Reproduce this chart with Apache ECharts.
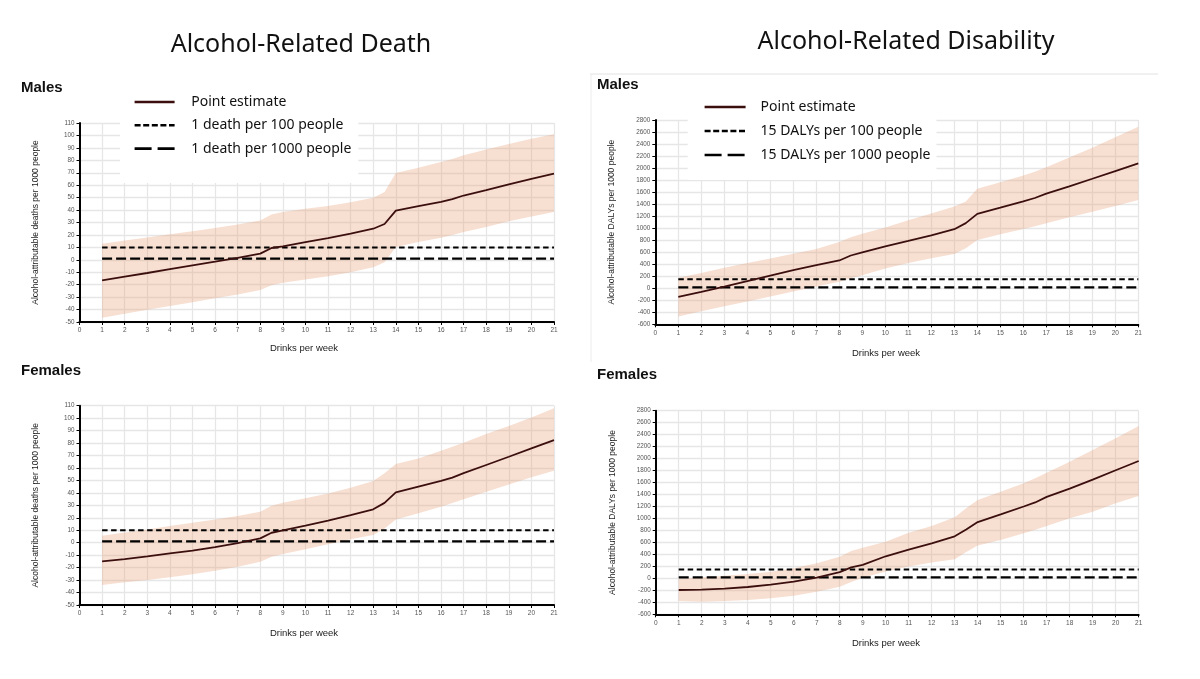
<!DOCTYPE html>
<html lang="en">
<head>
<meta charset="utf-8">
<title>Alcohol-related death and disability</title>
<script src="https://cdn.jsdelivr.net/npm/echarts@6/dist/echarts.min.js"></script>
<style>
  html, body { margin: 0; padding: 0; background: #fff; }
  #chart { width: 1200px; height: 679px; }
</style>
</head>
<body>
<div id="chart"></div>
<script>
// drinks per week where the estimates are given
var drinks = [1, 2, 3, 4, 5, 6, 7, 8, 8.5, 9, 10, 11, 12, 13, 13.5, 14, 15, 16, 16.5, 17, 18, 19, 20, 21];

// alcohol-attributable deaths per 1000 people
var maleDeathPoint = [-16.5, -13.5, -10.6, -7.5, -4.4, -1.5, 1.5, 5, 9.5, 10.8, 14.3, 17.5, 21, 25, 28.8, 39.6, 43.2, 46.6, 48.8, 51.7, 56.1, 60.7, 65, 69.2];
var maleDeathHigh  = [13, 15.5, 18, 20.5, 23, 25.6, 28.3, 31.7, 36.5, 38.4, 41, 43.2, 46.3, 50, 54.5, 69.8, 74, 78.6, 81, 84, 88.6, 93.2, 97.3, 101];
var maleDeathLow   = [-46.5, -43.3, -40.2, -37.2, -34.2, -31, -27.8, -24.2, -20.5, -18.5, -15.8, -13.2, -10, -6, -2, 10.3, 14.3, 17.8, 20, 22.4, 26.4, 31, 34.8, 38.4];

var femaleDeathPoint = [-15, -13.1, -11, -8.6, -6.3, -3.5, -0.3, 3.5, 8, 10, 13.7, 17.7, 22.2, 26.8, 32, 40.4, 45, 49.6, 52.3, 55.8, 62.4, 69, 75.7, 82.4];
var femaleDeathHigh  = [5.6, 8.3, 10.7, 13.4, 16, 18.7, 21.4, 24.9, 29.7, 32, 35.6, 39.6, 44.2, 49.5, 55.7, 63.2, 67.7, 73.9, 77, 80.3, 87.3, 93.7, 100.6, 107.9];
var femaleDeathLow   = [-34, -31.8, -30, -27.8, -25.4, -22.5, -19.3, -15.2, -11.2, -9.1, -5.3, -1.3, 2.7, 6.2, 11.5, 18.7, 23.6, 28.9, 31.8, 34.8, 41, 46.8, 52.5, 57.8];

// alcohol-attributable DALYs per 1000 people
var maleDalyPoint = [-142, -62, 25, 118, 210, 300, 385, 462, 545, 595, 695, 787, 881, 983, 1083, 1238, 1341, 1447, 1502, 1574, 1696, 1822, 1950, 2077];
var maleDalyHigh  = [175, 255, 340, 420, 495, 575, 655, 770, 850, 905, 1010, 1130, 1245, 1360, 1442, 1655, 1765, 1875, 1940, 2015, 2175, 2340, 2512, 2689];
var maleDalyLow   = [-472, -383, -300, -220, -139, -56, 27, 110, 168, 215, 330, 420, 498, 570, 665, 803, 898, 986, 1033, 1081, 1181, 1275, 1369, 1469];

var femaleDalyPoint = [-194, -188, -172, -144, -105, -55, 12, 105, 184, 225, 369, 480, 585, 702, 815, 940, 1068, 1200, 1268, 1360, 1500, 1650, 1805, 1960];
var femaleDalyHigh  = [-10, 17, 45, 73, 112, 168, 251, 362, 457, 513, 613, 763, 874, 1019, 1169, 1309, 1448, 1587, 1670, 1765, 1949, 2143, 2338, 2544];
var femaleDalyLow   = [-378, -389, -378, -361, -333, -289, -222, -138, -60, 10, 115, 200, 265, 320, 440, 550, 641, 752, 812, 874, 1002, 1114, 1253, 1375];

// reference lines
var deathLines = [10, 1];
var dalyLines = [150, 15];
var deathLineNames = ['1 death per 100 people', '1 death per 1000 people'];
var dalyLineNames = ['15 DALYs per 100 people', '15 DALYs per 1000 people'];

// axis ranges: min, max, step
var drinksRange = [0, 21, 1];
var deathRange = [-50, 110, 10];
var dalyRange = [-600, 2800, 200];

var pointColor = '#3c0f0f';
var bandColor = 'rgba(232,158,118,0.33)';
var gridColor = '#e6e6e6';
var shortDash = [5.5, 3.5];
var longDash = [10, 4];

var panels = [
  { rect: {left: 79.5, top: 123, width: 474.5, height: 199}, range: deathRange, title: 'Alcohol-attributable deaths per 1000 people',
    point: maleDeathPoint, low: maleDeathLow, high: maleDeathHigh, lines: deathLines, lineNames: deathLineNames },
  { rect: {left: 655.3, top: 120, width: 483, height: 204.3}, range: dalyRange, title: 'Alcohol-attributable DALYs per 1000 people',
    point: maleDalyPoint, low: maleDalyLow, high: maleDalyHigh, lines: dalyLines, lineNames: dalyLineNames },
  { rect: {left: 79.5, top: 405.7, width: 474.5, height: 199.3}, range: deathRange, title: 'Alcohol-attributable deaths per 1000 people',
    point: femaleDeathPoint, low: femaleDeathLow, high: femaleDeathHigh, lines: deathLines, lineNames: deathLineNames },
  { rect: {left: 655.7, top: 410.7, width: 483, height: 203.6}, range: dalyRange, title: 'Alcohol-attributable DALYs per 1000 people',
    point: femaleDalyPoint, low: femaleDalyLow, high: femaleDalyHigh, lines: dalyLines, lineNames: dalyLineNames }
];

var axisFont = 'Liberation Sans, Arial, sans-serif';
var grids = [], xAxes = [], yAxes = [], series = [];

panels.forEach(function (p, i) {
  grids.push({left: p.rect.left, top: p.rect.top, width: p.rect.width, height: p.rect.height, containLabel: false});

  xAxes.push({
    type: 'value', gridIndex: i,
    min: drinksRange[0], max: drinksRange[1], interval: drinksRange[2],
    axisLine: {onZero: false, lineStyle: {color: '#000', width: 2}},
    axisTick: {length: 3, lineStyle: {color: '#000', width: 1}},
    axisLabel: {fontSize: 6.5, color: '#555', margin: 5, fontFamily: axisFont},
    splitLine: {show: true, lineStyle: {color: gridColor, width: 1.3}}
  });

  yAxes.push({
    type: 'value', gridIndex: i,
    min: p.range[0], max: p.range[1], interval: p.range[2],
    name: p.title, nameLocation: 'middle', nameGap: 39,
    nameTextStyle: {fontSize: 8.5, color: '#222', fontFamily: axisFont},
    axisLine: {show: true, onZero: false, lineStyle: {color: '#000', width: 2}},
    axisTick: {show: true, length: 3, lineStyle: {color: '#000', width: 1}},
    axisLabel: {fontSize: 6.3, color: '#555', margin: 5, fontFamily: axisFont,
      formatter: function (v) { return String(v); }},
    splitLine: {show: true, lineStyle: {color: gridColor, width: 1.3}}
  });

  // uncertainty band as one polygon through the axis scales
  series.push({
    type: 'custom', xAxisIndex: i, yAxisIndex: i, silent: true, z: 1,
    data: drinks.map(function (d, k) { return [d, p.low[k], p.high[k]]; }),
    encode: {x: 0, y: [1, 2]},
    renderItem: function (params, api) {
      if (params.dataIndex !== 0) return null;
      var pts = [];
      for (var k = 0; k < drinks.length; k++) pts.push(api.coord([drinks[k], p.low[k]]));
      for (var k2 = drinks.length - 1; k2 >= 0; k2--) pts.push(api.coord([drinks[k2], p.high[k2]]));
      return {type: 'polygon', shape: {points: pts}, style: {fill: bandColor}};
    }
  });

  var first = drinks[0], last = drinks[drinks.length - 1];
  series.push({
    type: 'line', name: p.lineNames[0], xAxisIndex: i, yAxisIndex: i, symbol: 'none', silent: true, z: 3,
    data: [[first, p.lines[0]], [last, p.lines[0]]],
    lineStyle: {color: '#000', width: 2, type: shortDash}
  });
  series.push({
    type: 'line', name: p.lineNames[1], xAxisIndex: i, yAxisIndex: i, symbol: 'none', silent: true, z: 3,
    data: [[first, p.lines[1]], [last, p.lines[1]]],
    lineStyle: {color: '#000', width: 2.2, type: longDash}
  });
  series.push({
    type: 'line', name: 'Point estimate', xAxisIndex: i, yAxisIndex: i, symbol: 'none', silent: true, z: 4,
    data: drinks.map(function (d, k) { return [d, p.point[k]]; }),
    lineStyle: {color: pointColor, width: 1.8}
  });
});

function legendItems(names) {
  return [
    {name: 'Point estimate', lineStyle: {color: pointColor, width: 2.4, type: 'solid'}},
    {name: names[0], lineStyle: {color: '#000', width: 2.4, type: [6, 2.6]}},
    {name: names[1], lineStyle: {color: '#000', width: 2.6, type: [17, 6]}}
  ];
}

var legendText = {fontSize: 14, color: '#111', fontFamily: 'Noto Sans, sans-serif'};
var titleFont = 'Noto Sans, sans-serif';
var panelFont = 'Liberation Sans Narrow, Liberation Sans, sans-serif';

var option = {
  animation: false,
  backgroundColor: '#fff',
  grid: grids,
  xAxis: xAxes,
  yAxis: yAxes,
  legend: [
    {
      orient: 'vertical', left: 120, top: 89, selectedMode: false,
      itemWidth: 40, itemHeight: 14, itemGap: 9.3,
      padding: [6, 7, 27.5, 13.3], backgroundColor: '#fff',
      itemStyle: {opacity: 0},
      textStyle: Object.assign({padding: [0, 0, 0, 11.7]}, legendText),
      data: legendItems(deathLineNames)
    },
    {
      orient: 'vertical', left: 687.7, top: 94, selectedMode: false,
      itemWidth: 41, itemHeight: 14, itemGap: 10,
      padding: [6, 6, 18, 15.6], backgroundColor: '#fff',
      itemStyle: {opacity: 0},
      textStyle: Object.assign({padding: [0, 0, 0, 10]}, legendText),
      data: legendItems(dalyLineNames)
    }
  ],
  graphic: [
    {type: 'line', shape: {x1: 590, y1: 74, x2: 1158, y2: 74}, style: {stroke: '#e2e2e2', lineWidth: 1}, silent: true},
    {type: 'line', shape: {x1: 591, y1: 74, x2: 591, y2: 362}, style: {stroke: '#ececec', lineWidth: 1}, silent: true},
    {type: 'text', x: 301, y: 45, silent: true,
      style: {text: 'Alcohol-Related Death', fontSize: 25, fontFamily: titleFont, fill: '#111', align: 'center', verticalAlign: 'middle'}},
    {type: 'text', x: 906, y: 42, silent: true,
      style: {text: 'Alcohol-Related Disability', fontSize: 25, fontFamily: titleFont, fill: '#111', align: 'center', verticalAlign: 'middle'}},
    {type: 'text', x: 21, y: 88, silent: true,
      style: {text: 'Males', fontSize: 15, fontWeight: 'bold', fontFamily: panelFont, fill: '#111', verticalAlign: 'middle'}},
    {type: 'text', x: 597, y: 85, silent: true,
      style: {text: 'Males', fontSize: 15, fontWeight: 'bold', fontFamily: panelFont, fill: '#111', verticalAlign: 'middle'}},
    {type: 'text', x: 21, y: 371, silent: true,
      style: {text: 'Females', fontSize: 15, fontWeight: 'bold', fontFamily: panelFont, fill: '#111', verticalAlign: 'middle'}},
    {type: 'text', x: 597, y: 375, silent: true,
      style: {text: 'Females', fontSize: 15, fontWeight: 'bold', fontFamily: panelFont, fill: '#111', verticalAlign: 'middle'}},
    {type: 'text', x: 304, y: 348, silent: true,
      style: {text: 'Drinks per week', fontSize: 9.5, fontFamily: axisFont, fill: '#222', align: 'center', verticalAlign: 'middle'}},
    {type: 'text', x: 886, y: 353, silent: true,
      style: {text: 'Drinks per week', fontSize: 9.5, fontFamily: axisFont, fill: '#222', align: 'center', verticalAlign: 'middle'}},
    {type: 'text', x: 304, y: 633, silent: true,
      style: {text: 'Drinks per week', fontSize: 9.5, fontFamily: axisFont, fill: '#222', align: 'center', verticalAlign: 'middle'}},
    {type: 'text', x: 886, y: 643, silent: true,
      style: {text: 'Drinks per week', fontSize: 9.5, fontFamily: axisFont, fill: '#222', align: 'center', verticalAlign: 'middle'}}
  ],
  series: series
};

var chart = echarts.init(document.getElementById('chart'), null, {renderer: 'canvas'});
chart.setOption(option);
</script>
</body>
</html>
